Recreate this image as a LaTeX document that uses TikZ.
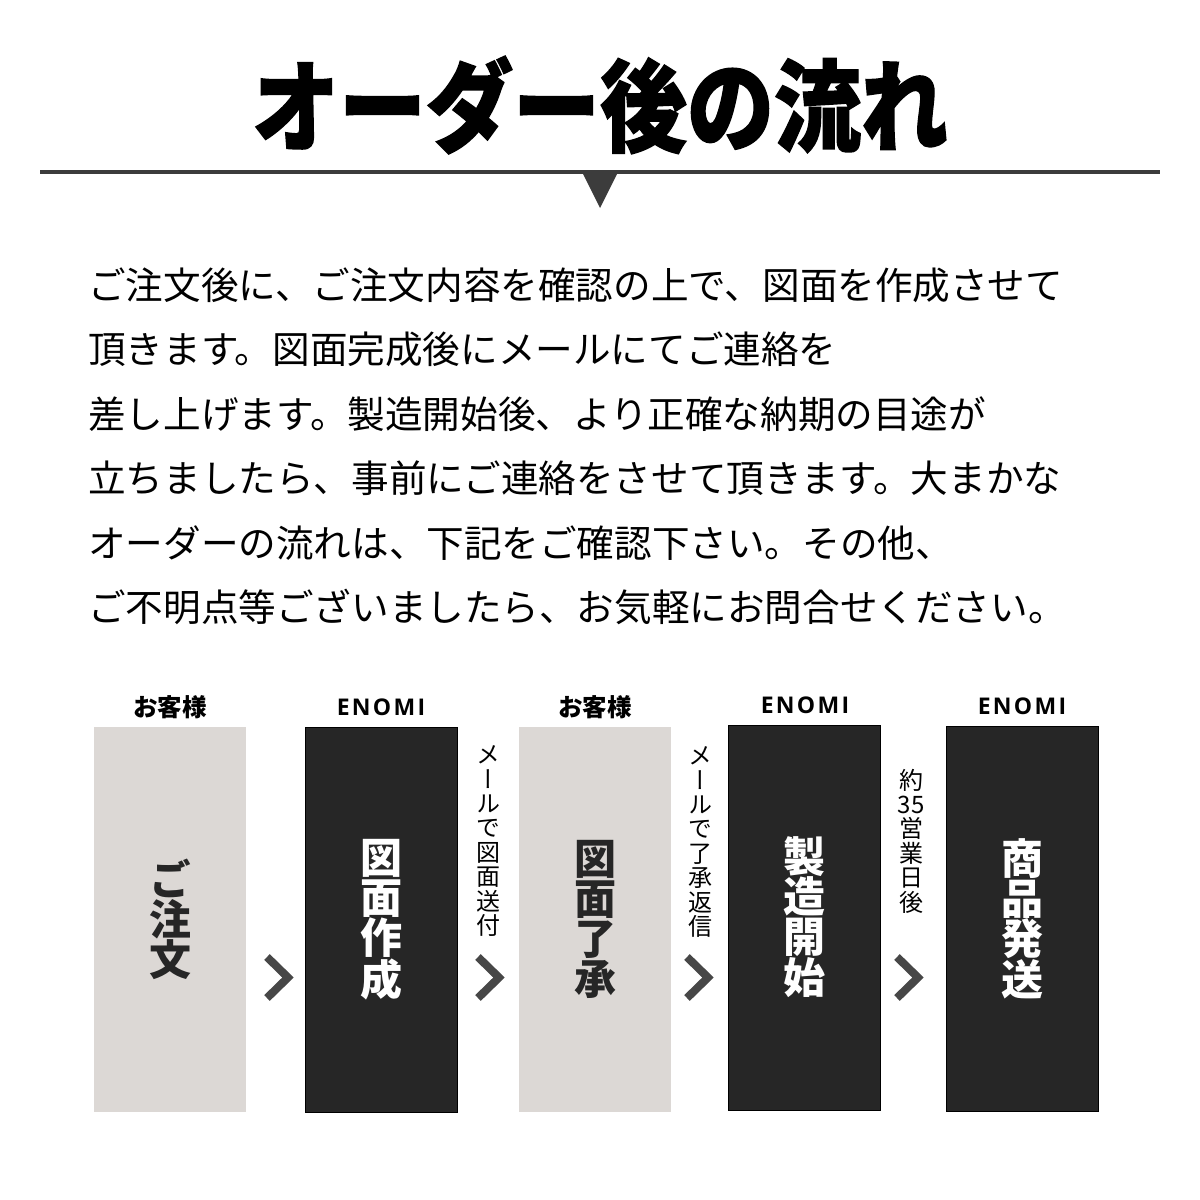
\documentclass[tikz,border=0pt]{standalone}
\usepackage{fontspec}
\setmainfont{Noto Sans CJK JP}
\newfontfamily\tatefont{Noto Sans CJK JP}[RawFeature=+vert]
\newfontfamily\titlefont{Noto Sans CJK JP}[BoldFeatures={FakeBold=1.5}]
\newfontfamily\logofont{Open Sans}[LetterSpace=10]
\definecolor{boxdark}{HTML}{262626}
\definecolor{boxgrey}{HTML}{DCD8D5}
\definecolor{chevgrey}{HTML}{474747}
\definecolor{rulegrey}{HTML}{3C3C3C}
\begin{document}
\begin{tikzpicture}[x=1pt,y=-1pt]
\useasboundingbox (0,0) rectangle (1200,1200);
\tikzset{bodyline/.style={anchor=west, inner sep=0pt, font=\fontsize{37.6}{40}\selectfont}}
\tikzset{who/.style={inner sep=0pt, font=\bfseries\fontsize{24.5}{26}\selectfont}}
\tikzset{enomi/.style={inner sep=0pt, font=\logofont\bfseries\fontsize{23}{24}\selectfont}}
\tikzset{greybox/.style={fill=boxgrey, minimum width=152pt, minimum height=385pt, align=center, text=boxdark, font=\tatefont\bfseries\fontsize{42}{40}\selectfont}}
\tikzset{darkbox/.style={fill=boxdark, draw=black, line width=1pt, minimum width=152pt, minimum height=385pt, align=center, text=white, font=\tatefont\bfseries\fontsize{42}{40}\selectfont}}
\tikzset{sidenote/.style={inner sep=0pt, align=center, font=\tatefont\fontsize{24}{24.4}\selectfont}}
\tikzset{chev/.style={chevgrey, line width=8pt, miter limit=4}}
% heading
\node (title) at (600,105) {\scalebox{0.87}[1]{\titlefont\bfseries\fontsize{100}{110}\selectfont オーダー後の流れ}};
\draw [rulegrey, line width=4pt] (40,172) -- (1160,172);
\fill [rulegrey] (582,172) -- (618,172) -- (600,208) -- cycle;
% text
\node [bodyline] (line1) at (88,285) {ご注文後に、ご注文内容を確認の上で、図面を作成させて};
\node [bodyline] (line2) at (88,349) {頂きます。図面完成後にメールにてご連絡を};
\node [bodyline] (line3) at (88,414) {差し上げます。製造開始後、より正確な納期の目途が};
\node [bodyline] (line4) at (88,478) {立ちましたら、事前にご連絡をさせて頂きます。大まかな};
\node [bodyline] (line5) at (88,543) {オーダーの流れは、下記をご確認下さい。その他、};
\node [bodyline] (line6) at (88,607) {ご不明点等ございましたら、お気軽にお問合せください。};
% steps
\node [who] (who1) at (170,707) {お客様};
\node [enomi] (who2) at (381,707) {ENOMI};
\node [who] (who3) at (595,707) {お客様};
\node [enomi] (who4) at (805,705) {ENOMI};
\node [enomi] (who5) at (1022,706) {ENOMI};
\node [greybox] (order) at (170,919.5) {ご\\注\\文};
\node [darkbox] (drawing) at (381.5,919.5) {図\\面\\作\\成};
\node [greybox] (approve) at (595,919.5) {図\\面\\了\\承};
\node [darkbox] (making) at (804.5,917.5) {製\\造\\開\\始};
\node [darkbox] (shipping) at (1022.5,919) {商\\品\\発\\送};
\node [sidenote] (note1) at (488,841) {メ\\ー\\ル\\で\\図\\面\\送\\付};
\node [sidenote] (note2) at (700,842) {メ\\ー\\ル\\で\\了\\承\\返\\信};
\node [sidenote] (note3) at (911,841) {約\\35\\営\\業\\日\\後};
\draw [chev] (267,957) -- (288,977.5) -- (267,998);
\draw [chev] (478,957) -- (499,977.5) -- (478,998);
\draw [chev] (687,957) -- (708,977.5) -- (687,998);
\draw [chev] (897,957) -- (918,977.5) -- (897,998);
\end{tikzpicture}
\end{document}
